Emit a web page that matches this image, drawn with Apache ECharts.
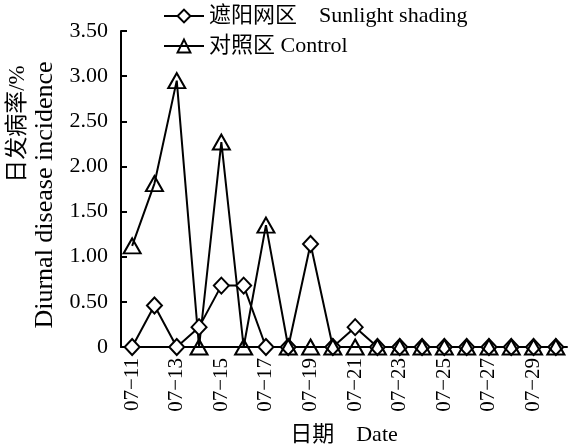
<!DOCTYPE html>
<html>
<head>
<meta charset="utf-8">
<script src="https://cdn.jsdelivr.net/npm/echarts@6/dist/echarts.min.js"></script>
<style>
  html, body { margin: 0; padding: 0; background: #fff; }
  #chart { width: 571px; height: 444px; }
</style>
</head>
<body>
<div id="chart"></div>
<script>
  // 日期
  var dates = ['07-11', '07-12', '07-13', '07-14', '07-15', '07-16', '07-17', '07-18', '07-19', '07-20',
    '07-21', '07-22', '07-23', '07-24', '07-25', '07-26', '07-27', '07-28', '07-29', '07-30']
  // 遮阳网区
  var shading = [0, 0.46, 0, 0.22, 0.68, 0.68, 0, 0, 1.14, 0,
    0.22, 0, 0, 0, 0, 0, 0, 0, 0, 0]
  // 对照区
  var control = [1.12, 1.81, 2.95, 0, 2.27, 0, 1.35, 0, 0, 0,
    0, 0, 0, 0, 0, 0, 0, 0, 0, 0]
  var yTicks = [0, 0.5, 1, 1.5, 2, 2.5, 3, 3.5]

  var font = '"Liberation Serif", "Noto Sans CJK SC", serif'
  var chart = echarts.init(document.getElementById('chart'))

  var options = {
    animation: false,
    textStyle: { fontFamily: font, color: '#000' },
    grid: { left: 121, right: 4, top: 31, bottom: 97, outerBoundsMode: 'none', containLabel: false },
    legend: {
      orient: 'vertical',
      left: 158,
      top: 0,
      itemWidth: 40,
      itemHeight: 16,
      itemGap: 8,
      textStyle: { fontFamily: font, fontSize: 22, color: '#000', lineHeight: 21 },
      data: ['遮阳网区　Sunlight shading', '对照区 Control']
    },
    graphic: [
      {
        type: 'text', x: 18, y: 124, rotation: Math.PI / 2,
        style: { text: '日发病率/%', font: '23px ' + font, fill: '#000', align: 'center', verticalAlign: 'middle' }
      },
      {
        type: 'text', x: 45, y: 195, rotation: Math.PI / 2,
        style: { text: 'Diurnal disease incidence', font: '26px ' + font, fill: '#000', align: 'center', verticalAlign: 'middle' }
      }
    ],
    xAxis: {
      type: 'category',
      data: dates,
      boundaryGap: true,
      name: '日期　Date',
      nameLocation: 'middle',
      nameGap: 77,
      nameTextStyle: { fontFamily: font, fontSize: 22, color: '#000' },
      axisLine: { lineStyle: { color: '#000', width: 2 } },
      axisTick: { show: false },
      axisLabel: {
        interval: 1,
        rotate: 90,
        margin: 11,
        fontFamily: font,
        fontSize: 21,
        color: '#000',
        formatter: function(v) { return v.replace('-', '−') }
      }
    },
    yAxis: {
      type: 'value',
      min: yTicks[0],
      max: yTicks[yTicks.length - 1],
      interval: 0.5,
      splitLine: { show: false },
      axisLine: { show: true, lineStyle: { color: '#000', width: 2 } },
      axisTick: { show: true, inside: true, length: 6, lineStyle: { color: '#000', width: 2 } },
      axisLabel: {
        margin: 13,
        fontFamily: font,
        fontSize: 22,
        color: '#000',
        formatter: function(v) { return v === 0 ? '0' : v.toFixed(2) }
      }
    },
    series: [
      {
        name: '遮阳网区　Sunlight shading',
        type: 'line',
        data: shading,
        symbol: 'diamond',
        symbolSize: [15, 16],
        showAllSymbol: true,
        itemStyle: { color: '#fff', borderColor: '#000', borderWidth: 2 },
        lineStyle: { color: '#000', width: 2 }
      },
      {
        name: '对照区 Control',
        type: 'line',
        data: control,
        symbol: 'triangle',
        symbolSize: [17, 15],
        showAllSymbol: true,
        itemStyle: { color: 'rgba(255,255,255,0)', borderColor: '#000', borderWidth: 2 },
        lineStyle: { color: '#000', width: 2 }
      }
    ]
  }
  chart.setOption(options)
</script>
</body>
</html>
